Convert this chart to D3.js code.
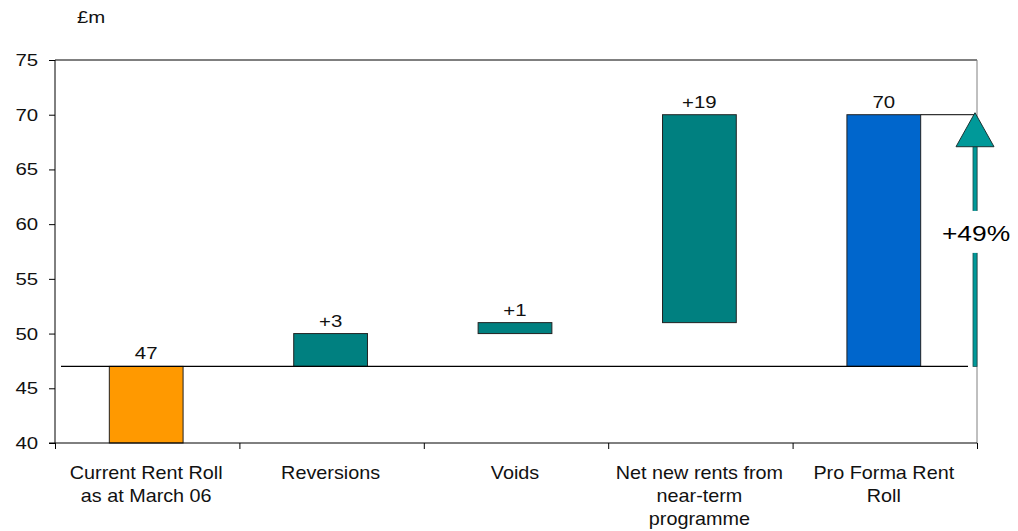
<!DOCTYPE html>
<html>
<head>
<meta charset="utf-8">
<script src="https://cdn.jsdelivr.net/npm/d3@7"></script>
<style>
  body { margin: 0; background: #fff; }
  svg { font-family: Arial, "Liberation Sans", sans-serif; }
</style>
</head>
<body>
<svg id="chart" width="1018" height="531"></svg>
<script>
// waterfall data
const categories = ['Current Rent Roll\nas at March 06', 'Reversions', 'Voids', 'Net new rents from\nnear-term\nprogramme', 'Pro Forma Rent\nRoll'];
const barStart = [40, 47, 50, 51, 47];
const barEnd = [47, 50, 51, 70, 70];
const barLabels = ['47', '+3', '+1', '+19', '70'];
const barColors = ['#FF9900', '#008080', '#008080', '#008080', '#0066CC'];
const yTicks = [40, 45, 50, 55, 60, 65, 70, 75];
const baseValue = 47;
const finalValue = 70;
const growthLabel = '+49%';

const svg = d3.select('#chart');
const margin = { top: 60, right: 41, bottom: 88, left: 55 };
const width = 1018, height = 531;
const innerW = width - margin.left - margin.right;
const innerH = height - margin.top - margin.bottom;
const sx = 1.2; // text in the original is a bit wide

const x = d3.scaleBand().domain(d3.range(categories.length)).range([0, innerW])
  .paddingInner(0.6).paddingOuter(0.3);
const y = d3.scaleLinear().domain([40, 75]).range([innerH, 0]);
const cx = i => x(i) - 1 + x.bandwidth() / 2;

const g = svg.append('g').attr('transform', `translate(${margin.left},${margin.top})`);

// plot frame: top and right
g.append('line').attr('x1', 0).attr('x2', innerW).attr('y1', 0).attr('y2', 0).attr('stroke', '#000');
g.append('line').attr('x1', innerW).attr('x2', innerW).attr('y1', 0).attr('y2', innerH).attr('stroke', '#808080');

// bars
g.selectAll('rect.bar').data(categories).join('rect')
  .attr('class', 'bar')
  .attr('x', (d, i) => x(i) - 1)
  .attr('y', (d, i) => y(barEnd[i]))
  .attr('width', x.bandwidth())
  .attr('height', (d, i) => y(barStart[i]) - y(barEnd[i]))
  .attr('fill', (d, i) => barColors[i])
  .attr('stroke', '#222')
  .attr('stroke-width', 1);

// bar labels
g.selectAll('text.val').data(barLabels).join('text')
  .attr('class', 'val')
  .attr('transform', (d, i) => `translate(${cx(i)},${y(barEnd[i]) - 7}) scale(${sx},1)`)
  .attr('text-anchor', 'middle')
  .attr('font-size', 17)
  .attr('fill', '#111')
  .text(d => d);

// baseline at current rent roll
g.append('line')
  .attr('x1', 6).attr('x2', innerW - 9)
  .attr('y1', y(baseValue)).attr('y2', y(baseValue))
  .attr('stroke', '#000').attr('stroke-width', 1.3);

// connector at pro forma
const arrowX = innerW - 2;
g.append('line')
  .attr('x1', x(4) - 1 + x.bandwidth()).attr('x2', arrowX)
  .attr('y1', y(finalValue)).attr('y2', y(finalValue))
  .attr('stroke', '#000').attr('stroke-width', 1);

// growth arrow
const headH = 32, headW = 38;
g.append('rect')
  .attr('x', arrowX - 2).attr('width', 4)
  .attr('y', y(finalValue) + headH).attr('height', y(baseValue) - y(finalValue) - headH)
  .attr('fill', '#009999').attr('stroke', '#1a4d4d').attr('stroke-width', 0.8);
g.append('path')
  .attr('d', `M${arrowX},${y(finalValue) - 2} L${arrowX + headW / 2},${y(finalValue) + headH} L${arrowX - headW / 2},${y(finalValue) + headH} Z`)
  .attr('fill', '#009999').attr('stroke', '#1a3333').attr('stroke-width', 1);

// growth label with white box
const midY = y(59.2);
g.append('rect')
  .attr('x', arrowX - 40).attr('y', midY - 22).attr('width', 90).attr('height', 42)
  .attr('fill', '#fff');
g.append('text')
  .attr('transform', `translate(${arrowX + 1},${midY + 8}) scale(${sx},1)`)
  .attr('text-anchor', 'middle')
  .attr('font-size', 22)
  .attr('fill', '#000')
  .text(growthLabel);

// axes
const yAxis = g.append('g')
  .call(d3.axisLeft(y).tickValues(yTicks).tickSize(6).tickPadding(8));
const xAxis = g.append('g')
  .attr('transform', `translate(0,${innerH})`)
  .call(d3.axisBottom(d3.scaleLinear().domain([0, categories.length]).range([0, innerW]))
    .tickValues(d3.range(categories.length + 1)).tickSize(6).tickFormat(''));
[yAxis, xAxis].forEach(a => {
  a.select('.domain').attr('stroke', '#000');
  a.selectAll('.tick line').attr('stroke', '#000');
});
yAxis.selectAll('text')
  .attr('font-size', 17).attr('fill', '#111')
  .attr('font-family', 'Arial, "Liberation Sans", sans-serif')
  .attr('transform', `scale(${sx},1)`);
yAxis.select('.domain').attr('d', `M0,${innerH}V0`);
xAxis.select('.domain').attr('d', `M-6,0H${innerW}`);

// category labels
const catG = g.append('g').attr('transform', `translate(0,${innerH})`);
categories.forEach((c, i) => {
  const t = catG.append('text')
    .attr('transform', `translate(${cx(i)},36) scale(1.1,1)`)
    .attr('text-anchor', 'middle')
    .attr('font-size', 18)
    .attr('fill', '#111');
  c.split('\n').forEach((line, j) => {
    t.append('tspan').attr('x', 0).attr('dy', j === 0 ? 0 : 23).text(line);
  });
});

// unit label
svg.append('text')
  .attr('transform', `translate(77,23) scale(${sx},1)`)
  .attr('font-size', 17).attr('fill', '#111').text('£m');
</script>
</body>
</html>
